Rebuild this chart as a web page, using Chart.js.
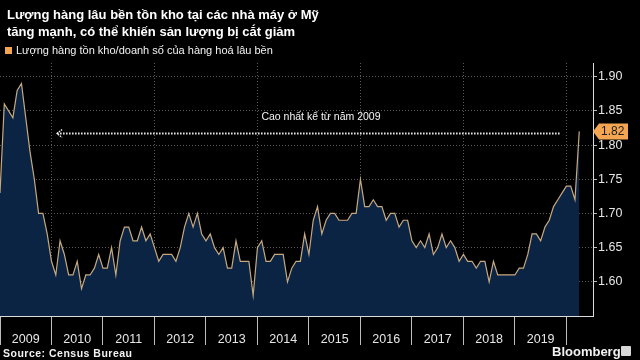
<!DOCTYPE html>
<html><head><meta charset="utf-8">
<script src="https://cdn.jsdelivr.net/npm/chart.js@4.4.0/dist/chart.umd.min.js"></script>
<style>
html,body{margin:0;padding:0;background:#000;width:640px;height:360px;overflow:hidden;font-family:"Liberation Sans",Arial,sans-serif}
#wrap{position:relative;width:640px;height:360px}
canvas{position:absolute;left:0;top:0}
.t{position:absolute;color:#fff;white-space:nowrap}
</style></head><body>
<div id="wrap">
<canvas id="c" width="640" height="360"></canvas>
<div class="t" style="left:7px;top:6px;font-size:13px;font-weight:bold;line-height:17px">Lượng hàng lâu bền tồn kho tại các nhà máy ở Mỹ<br>tăng mạnh, có thể khiến sản lượng bị cắt giảm</div>
<div class="t" style="left:5px;top:47px;width:7px;height:7px;background:#f3a552"></div>
<div class="t" style="left:16px;top:43px;font-size:11px;line-height:15px;color:#f2f2f2">Lượng hàng tồn kho/doanh số của hàng hoá lâu bền</div>
<div class="t" style="left:3px;top:346px;font-size:10.5px;font-weight:bold;letter-spacing:0.5px;line-height:14px;color:#f2f2f2">Source: Census Bureau</div>
<div class="t" style="left:552px;top:343px;font-size:13px;font-weight:bold;line-height:17px;color:#f2f2f2">Bloomberg</div>
<div class="t" style="left:621px;top:346px;width:10px;height:10px;background:#d8d8d8;border-radius:1px"></div>
</div>
<script>
const startYear = 2009;
const yearLabels = ['2009','2010','2011','2012','2013','2014','2015','2016','2017','2018','2019'];
const yTicks = [1.60, 1.65, 1.70, 1.75, 1.80, 1.85, 1.90];
const ratio = [
1.73,1.86,1.85,1.84,1.88,1.89,1.84,1.79,1.75,1.70,1.70,1.67,
1.63,1.61,1.66,1.64,1.61,1.61,1.63,1.59,1.61,1.61,1.62,1.64,
1.62,1.62,1.65,1.61,1.66,1.68,1.68,1.66,1.66,1.68,1.66,1.67,
1.65,1.63,1.64,1.64,1.64,1.63,1.65,1.68,1.70,1.68,1.70,1.67,
1.66,1.67,1.65,1.64,1.65,1.62,1.62,1.66,1.63,1.63,1.63,1.58,
1.65,1.66,1.63,1.63,1.64,1.64,1.64,1.60,1.62,1.63,1.63,1.67,
1.64,1.69,1.71,1.67,1.69,1.70,1.70,1.69,1.69,1.69,1.70,1.70,
1.75,1.71,1.71,1.72,1.71,1.71,1.69,1.70,1.70,1.68,1.69,1.69,
1.66,1.65,1.66,1.65,1.67,1.64,1.65,1.67,1.65,1.66,1.65,1.63,
1.64,1.63,1.63,1.62,1.63,1.63,1.60,1.63,1.61,1.61,1.61,1.61,
1.61,1.62,1.62,1.64,1.67,1.67,1.66,1.68,1.69,1.71,1.72,1.73,
1.74,1.74,1.72,1.82];
const months = ratio.map((v,i)=> (startYear+Math.floor(i/12)) + '-' + String(i%12+1).padStart(2,'0'));
const annotationText = 'Cao nhất kể từ năm 2009';

const annot = {
  id:'annot',
  afterDatasetsDraw(chart){
    const {ctx, scales:{x,y}} = chart;
    const last = ratio[ratio.length-1];
    const ay = Math.round(y.getPixelForValue(last)) + 2.5;
    const x1 = x.getPixelForValue(13.3), x2 = x.getPixelForValue(130.6);
    ctx.save();
    ctx.strokeStyle = '#f0f0f0';
    ctx.lineWidth = 2;
    ctx.setLineDash([1.5,1.5]);
    ctx.beginPath(); ctx.moveTo(x1,ay); ctx.lineTo(x2,ay); ctx.stroke();
    ctx.lineWidth = 1.4;
    ctx.setLineDash([1.5,1]);
    ctx.beginPath(); ctx.moveTo(x1+5,ay-4); ctx.lineTo(x1,ay); ctx.lineTo(x1+5,ay+4); ctx.stroke();
    ctx.setLineDash([]);
    ctx.fillStyle = '#f5f5f5';
    ctx.font = '10.5px "Liberation Sans", Arial, sans-serif';
    ctx.textAlign = 'center'; ctx.textBaseline = 'middle';
    ctx.fillText(annotationText, x.getPixelForValue(74.8), ay - 16);
    // value label
    const ly = y.getPixelForValue(last);
    const bx = x.right + 3;
    ctx.fillStyle = '#f3a552';
    ctx.beginPath();
    ctx.moveTo(bx-3, ly);
    ctx.lineTo(bx+3, ly-8);
    ctx.lineTo(bx+32, ly-8);
    ctx.lineTo(bx+32, ly+8);
    ctx.lineTo(bx+3, ly+8);
    ctx.closePath(); ctx.fill();
    ctx.fillStyle = '#1d1d1d';
    ctx.font = '12px "Liberation Sans", Arial, sans-serif';
    ctx.textAlign = 'left';
    ctx.fillText(last.toFixed(2), bx+5, ly+0.5);
    ctx.restore();
  }
};

new Chart(document.getElementById('c'), {
  type:'line',
  data:{
    labels: months,
    datasets:[{
      data: ratio.map((v,i)=>({x:i, y:v})),
      borderColor:'#c7a97f',
      borderWidth:1.2,
      backgroundColor:'#0b2444',
      fill:'start',
      pointRadius:0,
      tension:0
    }]
  },
  options:{
    responsive:false, animation:false, devicePixelRatio:1,
    layout:{padding:{top:63,left:0,right:0,bottom:0}},
    plugins:{legend:{display:false}, tooltip:{enabled:false}},
    scales:{
      x:{
        type:'linear', min:0, max:138.2, position:'bottom',
        afterBuildTicks(s){ s.ticks = yearLabels.concat(['2020']).map((_,k)=>({value:k*12})); },
        afterFit(s){ s.height = 44; s.paddingLeft = 0; s.paddingRight = 0; },
        grid:{
          color:(c)=> (c.tick && c.tick.value % 24 === 12) ? '#5a5a5a' : 'rgba(0,0,0,0)',
          lineWidth:1,
          drawTicks:true, tickLength:29, tickColor:'#bdbdbd', tickWidth:1, tickBorderDash:[]
        },
        border:{display:true, color:'#dcdcdc', width:1, dash:[1,2]},
        ticks:{
          autoSkip:false, maxRotation:0, minRotation:0,
          labelOffset:25.75, padding:-13,
          color:'#e6e6e6', font:{size:12.5, family:'"Liberation Sans", Arial, sans-serif'},
          callback:(v)=> yearLabels[Math.round(v/12)] || ''
        }
      },
      y:{
        position:'right', min:1.55, max:1.92,
        afterBuildTicks(s){ s.ticks = yTicks.map(v=>({value:v})); },
        afterFit(s){ s.width = 47; },
        grid:{color:'#5a5a5a', lineWidth:1, drawTicks:true, tickLength:4, tickColor:'#bdbdbd', tickBorderDash:[]},
        border:{display:true, color:'#dcdcdc', width:1, dash:[1,2]},
        ticks:{
          padding:1, color:'#e6e6e6', font:{size:12.5, family:'"Liberation Sans", Arial, sans-serif'},
          callback:(v)=> Number(v).toFixed(2)
        }
      }
    }
  },
  plugins:[annot]
});
</script>
</body></html>
